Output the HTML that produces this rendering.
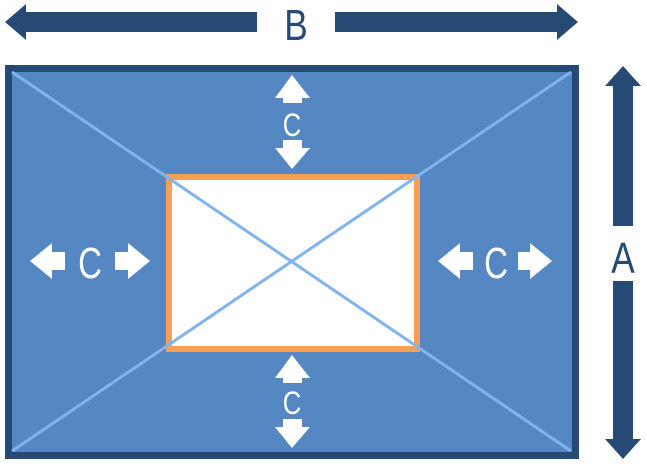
<!DOCTYPE html>
<html><head><style>html,body{margin:0;padding:0;background:#fff}svg{display:block}</style></head>
<body>
<svg width="647" height="464" viewBox="0 0 647 464" xmlns="http://www.w3.org/2000/svg">
<g fill="#264a74">
<polygon points="5,22 26,4 26,12 257,12 257,32 26,32 26,40"/>
<polygon points="578,22 557,4 557,12 335,12 335,32 557,32 557,40"/>
<polygon points="623,66 605,86 613,86 613,226 633,226 633,86 641,86"/>
<polygon points="623,459 605,439 613,439 613,281 633,281 633,439 641,439"/>
</g>
<text x="296" y="40" font-family="Liberation Sans, sans-serif" font-size="44" fill="#264a74" text-anchor="middle" transform="translate(296 0) scale(0.8 1) translate(-296 0)">B</text>
<text x="623" y="273" font-family="Liberation Sans, sans-serif" font-size="44" fill="#264a74" text-anchor="middle" transform="translate(623 0) scale(0.8 1) translate(-623 0)">A</text>
<rect x="8.5" y="68.5" width="567" height="387" fill="#5588c2" stroke="#264a74" stroke-width="7"/>
<rect x="169" y="177" width="248" height="172" fill="#fff" stroke="#f7a055" stroke-width="6"/>
<line x1="12" y1="72" x2="571" y2="451" stroke="#80b4ee" stroke-width="3"/>
<line x1="571" y1="72" x2="12" y2="451" stroke="#80b4ee" stroke-width="3"/>
<g fill="#fff">
<polygon points="292,75 275,98 283,98 283,103 302,103 302,98 310,98"/>
<polygon points="292,169 275,148 283,148 283,140 302,140 302,148 310,148"/>
<polygon points="292,355 275,378 283,378 283,383 302,383 302,378 310,378"/>
<polygon points="292,448 275,427 283,427 283,419 302,419 302,427 310,427"/>
<polygon points="30,261 52,243 52,252 65,252 65,270 52,270 52,279"/>
<polygon points="150,261 128,243 128,252 115,252 115,270 128,270 128,279"/>
<polygon points="438,261 460,243 460,252 473,252 473,270 460,270 460,279"/>
<polygon points="552,261 530,243 530,252 518,252 518,270 530,270 530,279"/>
</g>
<g font-family="Liberation Sans, sans-serif" fill="#fff" text-anchor="middle">
<text x="292" y="136" font-size="32" transform="translate(292 0) scale(0.8 1) translate(-292 0)">C</text>
<text x="292" y="414" font-size="32" transform="translate(292 0) scale(0.8 1) translate(-292 0)">C</text>
<text x="90" y="278" font-size="44" transform="translate(90 0) scale(0.75 1) translate(-90 0)">C</text>
<text x="496" y="278" font-size="44" transform="translate(496 0) scale(0.75 1) translate(-496 0)">C</text>
</g>
</svg>
</body></html>
